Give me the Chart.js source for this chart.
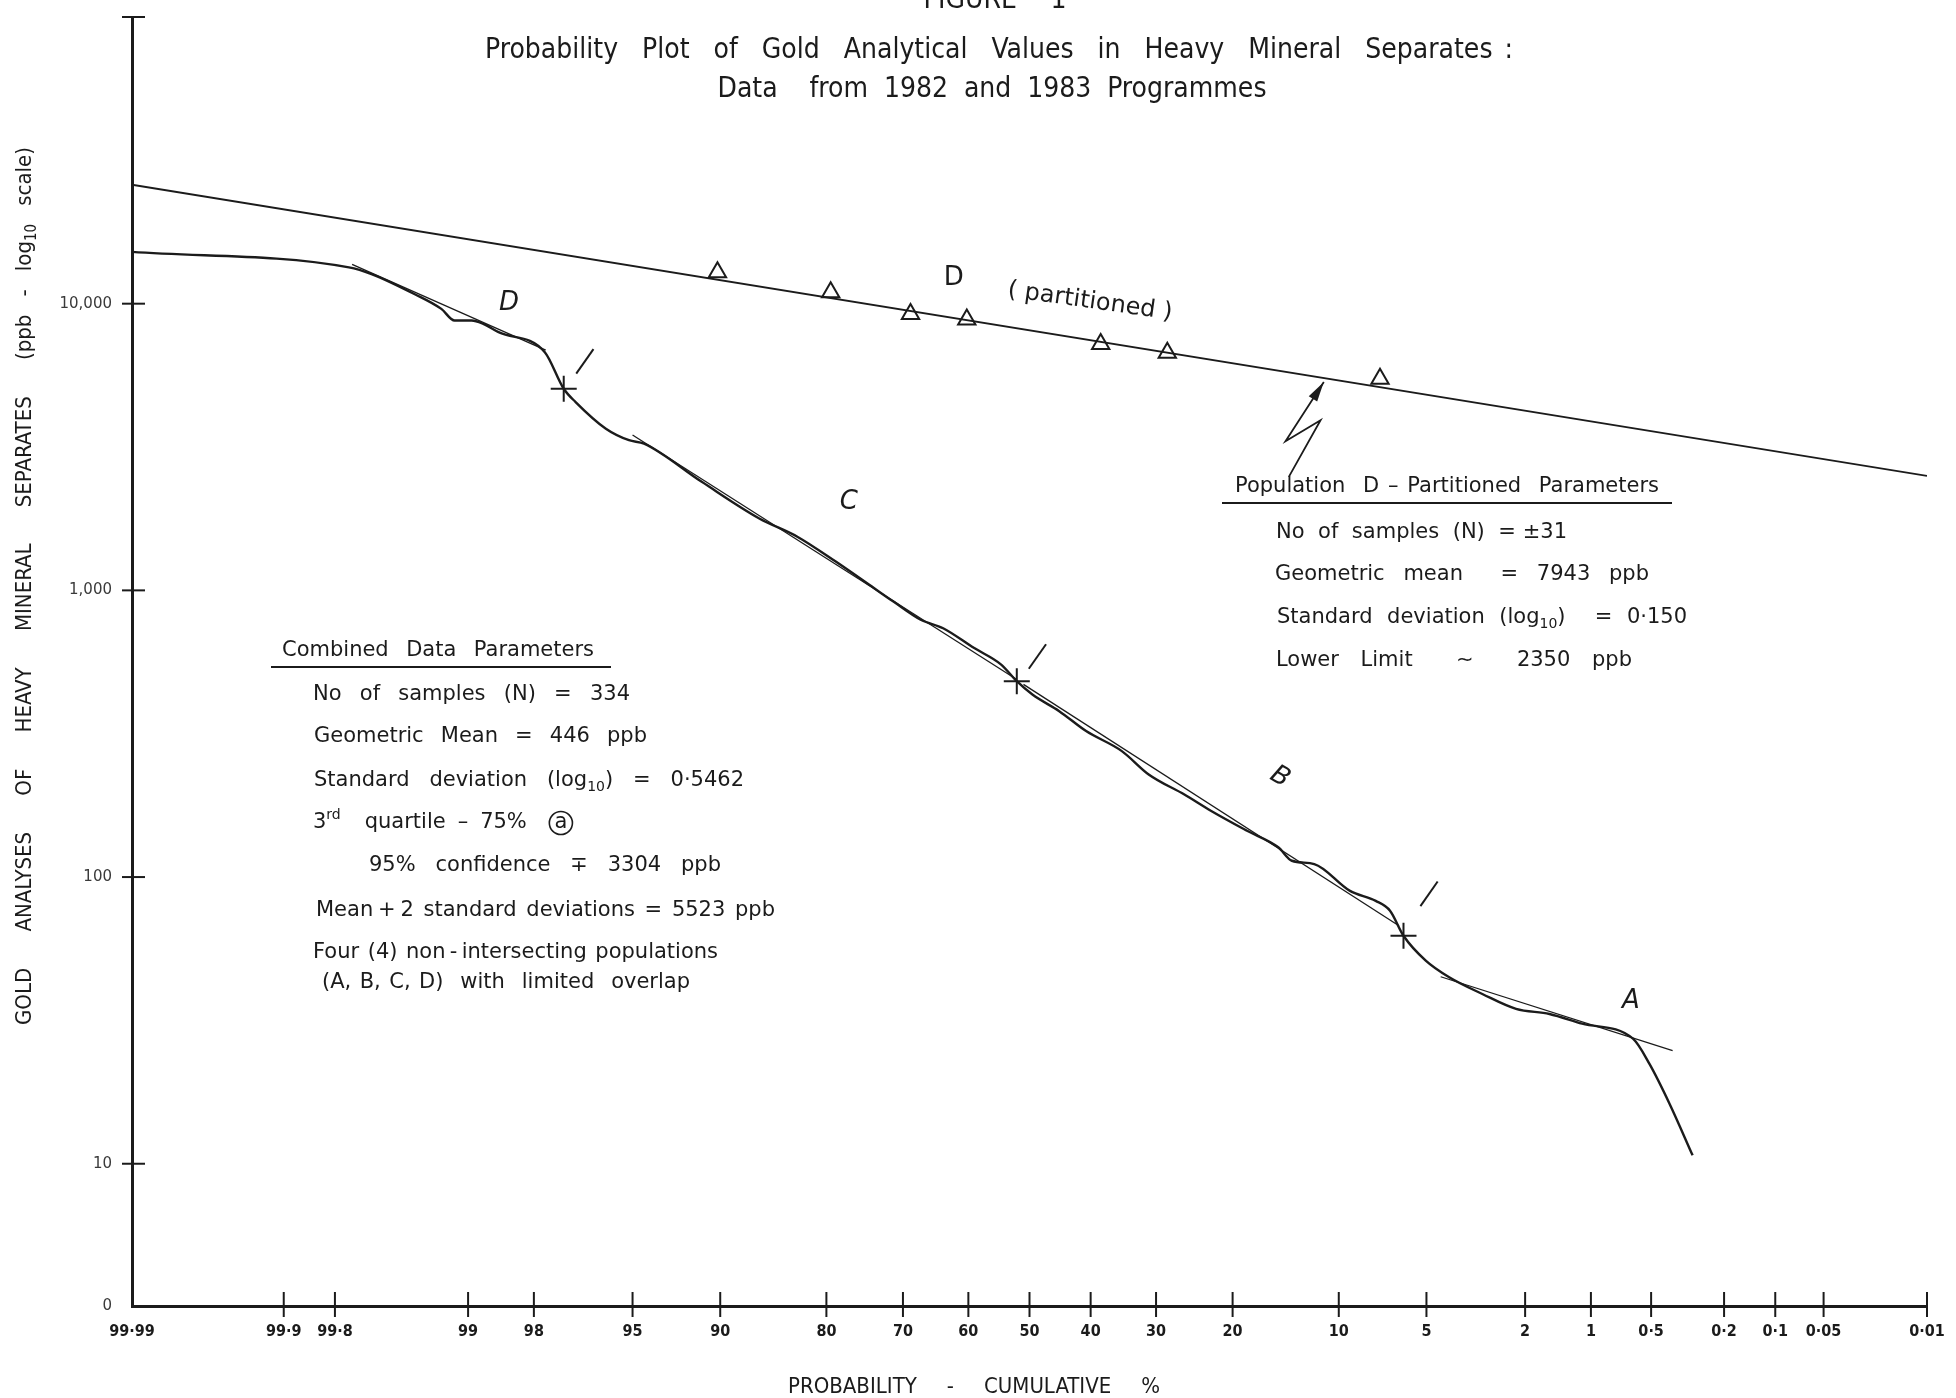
<!DOCTYPE html>
<html>
<head>
<meta charset="utf-8">
<script src="https://cdn.jsdelivr.net/npm/chart.js@4.4.1/dist/chart.umd.min.js"></script>
<style>
  html, body { margin: 0; padding: 0; background: #fff; }
  #wrap { width: 1956px; height: 1398px; }
</style>
</head>
<body>
<div id="wrap"><canvas id="plot" width="1956" height="1398"></canvas></div>
<script>
// ---- data (cumulative probability in %, gold in ppb) ----
const probTicks  = [99.99, 99.9, 99.8, 99, 98, 95, 90, 80, 70, 60, 50, 40, 30, 20, 10, 5, 2, 1, 0.5, 0.2, 0.1, 0.05, 0.01];
const probLabels = ['99·99', '99·9', '99·8', '99', '98', '95', '90', '80', '70', '60', '50', '40', '30', '20', '10', '5', '2', '1', '0·5', '0·2', '0·1', '0·05', '0·01'];
const yTickVals   = [3.19, 10, 100, 1000, 10000, 100000];
const yTickLabels = ['0', '10', '100', '1,000', '10,000', ''];

// traced probability curve of all samples
const curveProb = [99.99, 99.76, 99.68, 99.46, 99.26, 99.14, 98.96, 98.82, 98.61, 97.77, 97.32, 97.0, 96.04, 95.15, 94.49, 91.28, 86.86, 83.2, 78.9, 74.0, 71.36, 67.4, 63.98, 59.06, 54.67, 52.1, 49.52, 45.1, 40.73, 35.1, 31.07, 26.05, 22.57, 18.37, 15.13, 13.85, 11.9, 9.21, 7.57, 6.76, 6.06, 5.03, 4.10, 3.03, 2.19, 1.56, 1.10, 0.62, 0.51, 0.40, 0.30];
const curvePpb  = [15160, 13390, 12690, 10810, 9590, 8734, 8734, 8500, 7953, 6774, 5050, 4539, 3664, 3340, 3250, 2391, 1782, 1539, 1260, 1017, 914, 790, 738, 629, 551, 482, 433, 379, 323, 275, 228, 194, 170, 145, 127, 114, 111, 89.5, 82.6, 76.3, 62.4, 51.1, 44.7, 39.1, 34.7, 33.3, 30.8, 27.3, 22.3, 16.2, 10.7];

// straight population fits
const fitDProb = [99.75, 97.75],  fitDPpb = [13710, 6884];
const fitCProb = [95.0, 52.1],    fitCPpb = [3483, 489];
const fitBProb = [51.0, 6.29],    fitBPpb = [470, 67.6];
const fitAProb = [4.42, 0.385],   fitAPpb = [44.9, 24.8];

// partitioned population D
const partLineProb = [99.99, 0.01], partLinePpb = [26000, 2507];
const partProb = [90.2, 79.5, 68.9, 60.25, 38.4, 28.4, 7.32];
const partPpb  = [12860, 10960, 9210, 8805, 7240, 6738, 5470];

// population breaks (+) and their tick marks (/)
const breakProb = [97.32, 52.1, 6.06], breakPpb = [5050, 482, 62.4];
const slashProb = [96.73, 48.69, 4.89], slashPpb = [6293, 588, 87.4];

// zig-zag pointer to the partitioned line
const arrowProb = [14.13, 11.39, 14.44, 11.13];
const arrowPpb  = [2489, 3920, 3313, 5327];

// ---- normal probability transform ----
function probit(p) {
  const a = [-3.969683028665376e+01, 2.209460984245205e+02, -2.759285104469687e+02, 1.383577518672690e+02, -3.066479806614716e+01, 2.506628277459239e+00];
  const b = [-5.447609879822406e+01, 1.615858368580409e+02, -1.556989798598866e+02, 6.680131188771972e+01, -1.328068155288572e+01];
  const c = [-7.784894002430293e-03, -3.223964580411365e-01, -2.400758277161838e+00, -2.549671010139877e+00, 4.374664141464968e+00, 2.938163982698783e+00];
  const d = [7.784695709041462e-03, 3.224671290700398e-01, 2.445134137142996e+00, 3.754408661907416e+00];
  const pl = 0.02425;
  let q, r;
  if (p < pl) {
    q = Math.sqrt(-2 * Math.log(p));
    return (((((c[0]*q+c[1])*q+c[2])*q+c[3])*q+c[4])*q+c[5]) / ((((d[0]*q+d[1])*q+d[2])*q+d[3])*q+1);
  }
  if (p > 1 - pl) {
    q = Math.sqrt(-2 * Math.log(1 - p));
    return -(((((c[0]*q+c[1])*q+c[2])*q+c[3])*q+c[4])*q+c[5]) / ((((d[0]*q+d[1])*q+d[2])*q+d[3])*q+1);
  }
  q = p - 0.5; r = q * q;
  return (((((a[0]*r+a[1])*r+a[2])*r+a[3])*r+a[4])*r+a[5])*q / (((((b[0]*r+b[1])*r+b[2])*r+b[3])*r+b[4])*r+1);
}
// high probability on the left
const toX = pct => -probit(pct / 100);
const pts = (probs, vals) => probs.map((p, i) => ({ x: toX(p), y: vals[i] }));

const ink = '#1b1b1b';
const bodyFamily  = "'DejaVu Sans', 'Liberation Sans', sans-serif";
const titleFamily = "'DejaVu Sans Condensed', 'Liberation Sans Narrow', 'DejaVu Sans', sans-serif";

// ---- text helpers (supports _{sub}, ^{sup}, @x circled) ----
function parseWord(word) {
  const parts = [];
  const re = /_\{([^}]*)\}|\^\{([^}]*)\}|@(\w)/g;
  let last = 0, m;
  while ((m = re.exec(word))) {
    if (m.index > last) parts.push({ t: word.slice(last, m.index), mode: 'n' });
    if (m[1] !== undefined) parts.push({ t: m[1], mode: 'sub' });
    else if (m[2] !== undefined) parts.push({ t: m[2], mode: 'sup' });
    else parts.push({ t: m[3], mode: 'circ' });
    last = re.lastIndex;
  }
  if (last < word.length) parts.push({ t: word.slice(last), mode: 'n' });
  return parts;
}
function partFont(f, mode) {
  const size = (mode === 'sub' || mode === 'sup') ? Math.round(f.size * 0.68) : f.size;
  return `${f.style || ''} ${size}px ${f.family}`;
}
function wordWidth(ctx, parts, f) {
  let w = 0;
  for (const p of parts) {
    ctx.font = partFont(f, p.mode);
    w += ctx.measureText(p.t).width + (p.mode === 'circ' ? f.size * 0.35 : 0);
  }
  return w;
}
function drawWord(ctx, parts, x, y, f) {
  for (const p of parts) {
    ctx.font = partFont(f, p.mode);
    const w = ctx.measureText(p.t).width;
    if (p.mode === 'circ') {
      const pad = f.size * 0.175;
      ctx.fillText(p.t, x + pad, y);
      ctx.beginPath();
      ctx.arc(x + pad + w / 2, y, f.size * 0.55, 0, Math.PI * 2);
      ctx.lineWidth = 1.6;
      ctx.stroke();
      x += w + pad * 2;
      continue;
    }
    let dy = 0;
    if (p.mode === 'sub') dy = f.size * 0.32;
    if (p.mode === 'sup') dy = -f.size * 0.38;
    ctx.fillText(p.t, x, y + dy);
    x += w;
  }
}
// draws words spread so the line fills `width` (gaps weighted by the number of spaces)
function spreadLine(ctx, text, x, y, width, f) {
  const tokens = text.split(/(\s+)/);
  const words = [], gaps = [];
  tokens.forEach((tk, i) => { if (i % 2 === 0) words.push(parseWord(tk)); else gaps.push(tk.length); });
  const ww = words.map(p => wordWidth(ctx, p, f));
  const total = ww.reduce((s, v) => s + v, 0);
  const wsum = gaps.reduce((s, v) => s + v, 0);
  ctx.font = partFont(f, 'n');
  const unit = (width && wsum) ? (width - total) / wsum : ctx.measureText(' ').width;
  let cx = x;
  words.forEach((p, i) => {
    drawWord(ctx, p, cx, y, f);
    cx += ww[i] + (i < gaps.length ? gaps[i] * unit : 0);
  });
}

// ---- page text layout ----
const titleLines = [
  { text: 'FIGURE  1', cx: 995, y: 8, w: 143, size: 28, clipTop: true },
  { text: 'Probability  Plot  of  Gold  Analytical  Values  in  Heavy  Mineral  Separates :', cx: 999, y: 51, w: 1028, size: 28 },
  { text: 'Data    from  1982  and  1983  Programmes', cx: 992, y: 90, w: 549, size: 28 }
];
const combinedBlock = [
  { text: 'Combined   Data   Parameters', x: 282, y: 651, w: 312 },
  { text: 'No  of  samples  (N)  =  334', x: 313, y: 695, w: 317 },
  { text: 'Geometric  Mean  =  446  ppb', x: 314, y: 737, w: 333 },
  { text: 'Standard  deviation  (log_{10})  =  0·5462', x: 314, y: 781, w: 430 },
  { text: '3^{rd}  quartile – 75%  @a', x: 313, y: 823, w: 258 },
  { text: '95%  confidence  ∓  3304  ppb', x: 369, y: 866, w: 352 },
  { text: 'Mean + 2  standard  deviations  =  5523  ppb', x: 316, y: 911, w: 459 },
  { text: 'Four  (4)  non - intersecting  populations', x: 313, y: 953, w: 405 },
  { text: '(A, B, C, D)  with  limited  overlap', x: 322, y: 983, w: 368 }
];
const partBlock = [
  { text: 'Population  D – Partitioned  Parameters', x: 1235, y: 487, w: 424 },
  { text: 'No  of  samples  (N)  = ±31', x: 1276, y: 533, w: 291 },
  { text: 'Geometric  mean    =  7943  ppb', x: 1275, y: 575, w: 374 },
  { text: 'Standard  deviation  (log_{10})    =  0·150', x: 1277, y: 618, w: 410 },
  { text: 'Lower  Limit    ∼    2350  ppb', x: 1276, y: 661, w: 356 }
];
const curveLabels = [
  { text: 'D', p: 98.45, v: 10000, style: 'italic', rot: 0 },
  { text: 'C', p: 77.3, v: 2034, style: 'italic', rot: 0 },
  { text: 'B', p: 14.97, v: 223, style: 'italic', rot: 30 },
  { text: 'A', p: 0.635, v: 37.0, style: 'italic', rot: 0 },
  { text: 'D', p: 62.3, v: 12290, style: '', rot: 0 },
  { text: '( partitioned )', p: 40.1, v: 10160, style: '', rot: 8 }
];

const paperText = {
  id: 'paperText',
  afterDraw(chart) {
    const ctx = chart.ctx;
    const xs = chart.scales.x, ys = chart.scales.y;
    const area = chart.chartArea;
    ctx.save();
    ctx.strokeStyle = ink;
    ctx.fillStyle = ink;

    // ticks that cross the axes
    ctx.lineWidth = 2;
    xs.ticks.forEach((t, i) => {
      if (i === 0) return;
      const px = xs.getPixelForValue(t.value);
      ctx.beginPath(); ctx.moveTo(px, area.bottom - 14); ctx.lineTo(px, area.bottom + 11); ctx.stroke();
    });
    ys.ticks.forEach((t, i) => {
      if (i === 0) return;
      const py = ys.getPixelForValue(t.value);
      ctx.beginPath(); ctx.moveTo(area.left - 10, py); ctx.lineTo(area.left + 13, py); ctx.stroke();
    });

    // arrow head on the zig-zag pointer
    const n = arrowProb.length;
    const ax0 = xs.getPixelForValue(toX(arrowProb[n - 2])), ay0 = ys.getPixelForValue(arrowPpb[n - 2]);
    const ax1 = xs.getPixelForValue(toX(arrowProb[n - 1])), ay1 = ys.getPixelForValue(arrowPpb[n - 1]);
    const ang = Math.atan2(ay1 - ay0, ax1 - ax0);
    ctx.beginPath();
    ctx.moveTo(ax1, ay1);
    ctx.lineTo(ax1 - 20 * Math.cos(ang) + 5 * Math.sin(ang), ay1 - 20 * Math.sin(ang) - 5 * Math.cos(ang));
    ctx.lineTo(ax1 - 20 * Math.cos(ang) - 5 * Math.sin(ang), ay1 - 20 * Math.sin(ang) + 5 * Math.cos(ang));
    ctx.closePath();
    ctx.fill();

    // population letters
    ctx.textAlign = 'center';
    ctx.textBaseline = 'middle';
    curveLabels.forEach(l => {
      const px = xs.getPixelForValue(toX(l.p)), py = ys.getPixelForValue(l.v);
      ctx.save();
      ctx.translate(px, py);
      ctx.rotate(l.rot * Math.PI / 180);
      ctx.font = `${l.style} ${l.text.length > 1 ? 24 : 26}px ${bodyFamily}`;
      ctx.fillText(l.text, 0, 0);
      ctx.restore();
    });

    // titles
    ctx.textAlign = 'left';
    titleLines.forEach(t => {
      ctx.textBaseline = t.clipTop ? 'alphabetic' : 'middle';
      spreadLine(ctx, t.text, t.cx - t.w / 2, t.y, t.w, { size: t.size, family: titleFamily });
    });
    ctx.textBaseline = 'middle';

    // parameter blocks
    const bf = { size: 21, family: bodyFamily };
    combinedBlock.forEach(l => spreadLine(ctx, l.text, l.x, l.y, l.w, bf));
    partBlock.forEach(l => spreadLine(ctx, l.text, l.x, l.y, l.w, bf));
    ctx.lineWidth = 2;
    ctx.beginPath(); ctx.moveTo(271, 667); ctx.lineTo(611, 667); ctx.stroke();
    ctx.beginPath(); ctx.moveTo(1222, 503); ctx.lineTo(1672, 503); ctx.stroke();

    // axis titles
    spreadLine(ctx, 'PROBABILITY  -  CUMULATIVE  %', 788, 1387, 372, { size: 22, family: titleFamily });
    ctx.save();
    ctx.translate(25, 586);
    ctx.rotate(-Math.PI / 2);
    spreadLine(ctx, 'GOLD  ANALYSES  OF  HEAVY  MINERAL  SEPARATES  (ppb - log_{10} scale)', -439, 0, 878, { size: 22, family: titleFamily });
    ctx.restore();

    ctx.restore();
  }
};

const lineDs = (data, width) => ({
  data, showLine: true, borderColor: ink, borderWidth: width, pointRadius: 0, tension: 0, fill: false
});

new Chart(document.getElementById('plot'), {
  type: 'scatter',
  data: {
    datasets: [
      lineDs(pts(partLineProb, partLinePpb), 1.8),
      lineDs(pts(fitDProb, fitDPpb), 1.3),
      lineDs(pts(fitCProb, fitCPpb), 1.3),
      lineDs(pts(fitBProb, fitBPpb), 1.3),
      lineDs(pts(fitAProb, fitAPpb), 1.3),
      Object.assign(lineDs(pts(curveProb, curvePpb), 2.4), { cubicInterpolationMode: 'monotone' }),
      lineDs(pts(arrowProb, arrowPpb), 1.8),
      {
        data: pts(partProb, partPpb), showLine: false, pointStyle: 'triangle', pointRadius: 10,
        pointBackgroundColor: '#fff', pointBorderColor: ink, pointBorderWidth: 2
      },
      {
        data: pts(partProb, partPpb), showLine: false, pointStyle: 'circle', pointRadius: 1.2,
        pointBackgroundColor: ink, pointBorderColor: ink, pointBorderWidth: 0
      },
      {
        data: pts(breakProb, breakPpb), showLine: false, pointStyle: 'cross', pointRadius: 13,
        pointBorderColor: ink, pointBorderWidth: 2
      },
      {
        data: pts(slashProb, slashPpb), showLine: false, pointStyle: 'line', pointRadius: 15,
        pointRotation: -55, pointBorderColor: ink, pointBorderWidth: 2
      }
    ]
  },
  options: {
    responsive: false,
    animation: false,
    devicePixelRatio: 1,
    layout: { padding: { left: 0, top: 13, right: 29, bottom: 0 } },
    plugins: { legend: { display: false }, tooltip: { enabled: false } },
    scales: {
      x: {
        type: 'linear',
        min: toX(99.99),
        max: toX(0.01),
        afterFit: s => { s.height = 92; s.paddingLeft = 0; s.paddingRight = 0; },
        afterBuildTicks: s => { s.ticks = probTicks.map(p => ({ value: toX(p) })); },
        grid: { display: false, drawTicks: false },
        border: { display: true, color: ink, width: 3 },
        ticks: {
          autoSkip: false, maxRotation: 0, minRotation: 0, padding: 16, color: ink,
          font: { family: titleFamily, size: 16, weight: 'bold' },
          callback: (v, i) => probLabels[i]
        }
      },
      y: {
        type: 'logarithmic',
        min: yTickVals[0],
        max: yTickVals[yTickVals.length - 1],
        afterFit: s => { s.width = 132; s.paddingTop = 0; s.paddingBottom = 0; },
        afterBuildTicks: s => { s.ticks = yTickVals.map(v => ({ value: v })); },
        grid: { display: false, drawTicks: false },
        border: { display: true, color: ink, width: 3 },
        ticks: {
          autoSkip: false, padding: 20, color: '#3a3a3a',
          font: { family: bodyFamily, size: 15 },
          callback: (v, i) => yTickLabels[i]
        }
      }
    }
  },
  plugins: [paperText]
});
</script>
</body>
</html>
